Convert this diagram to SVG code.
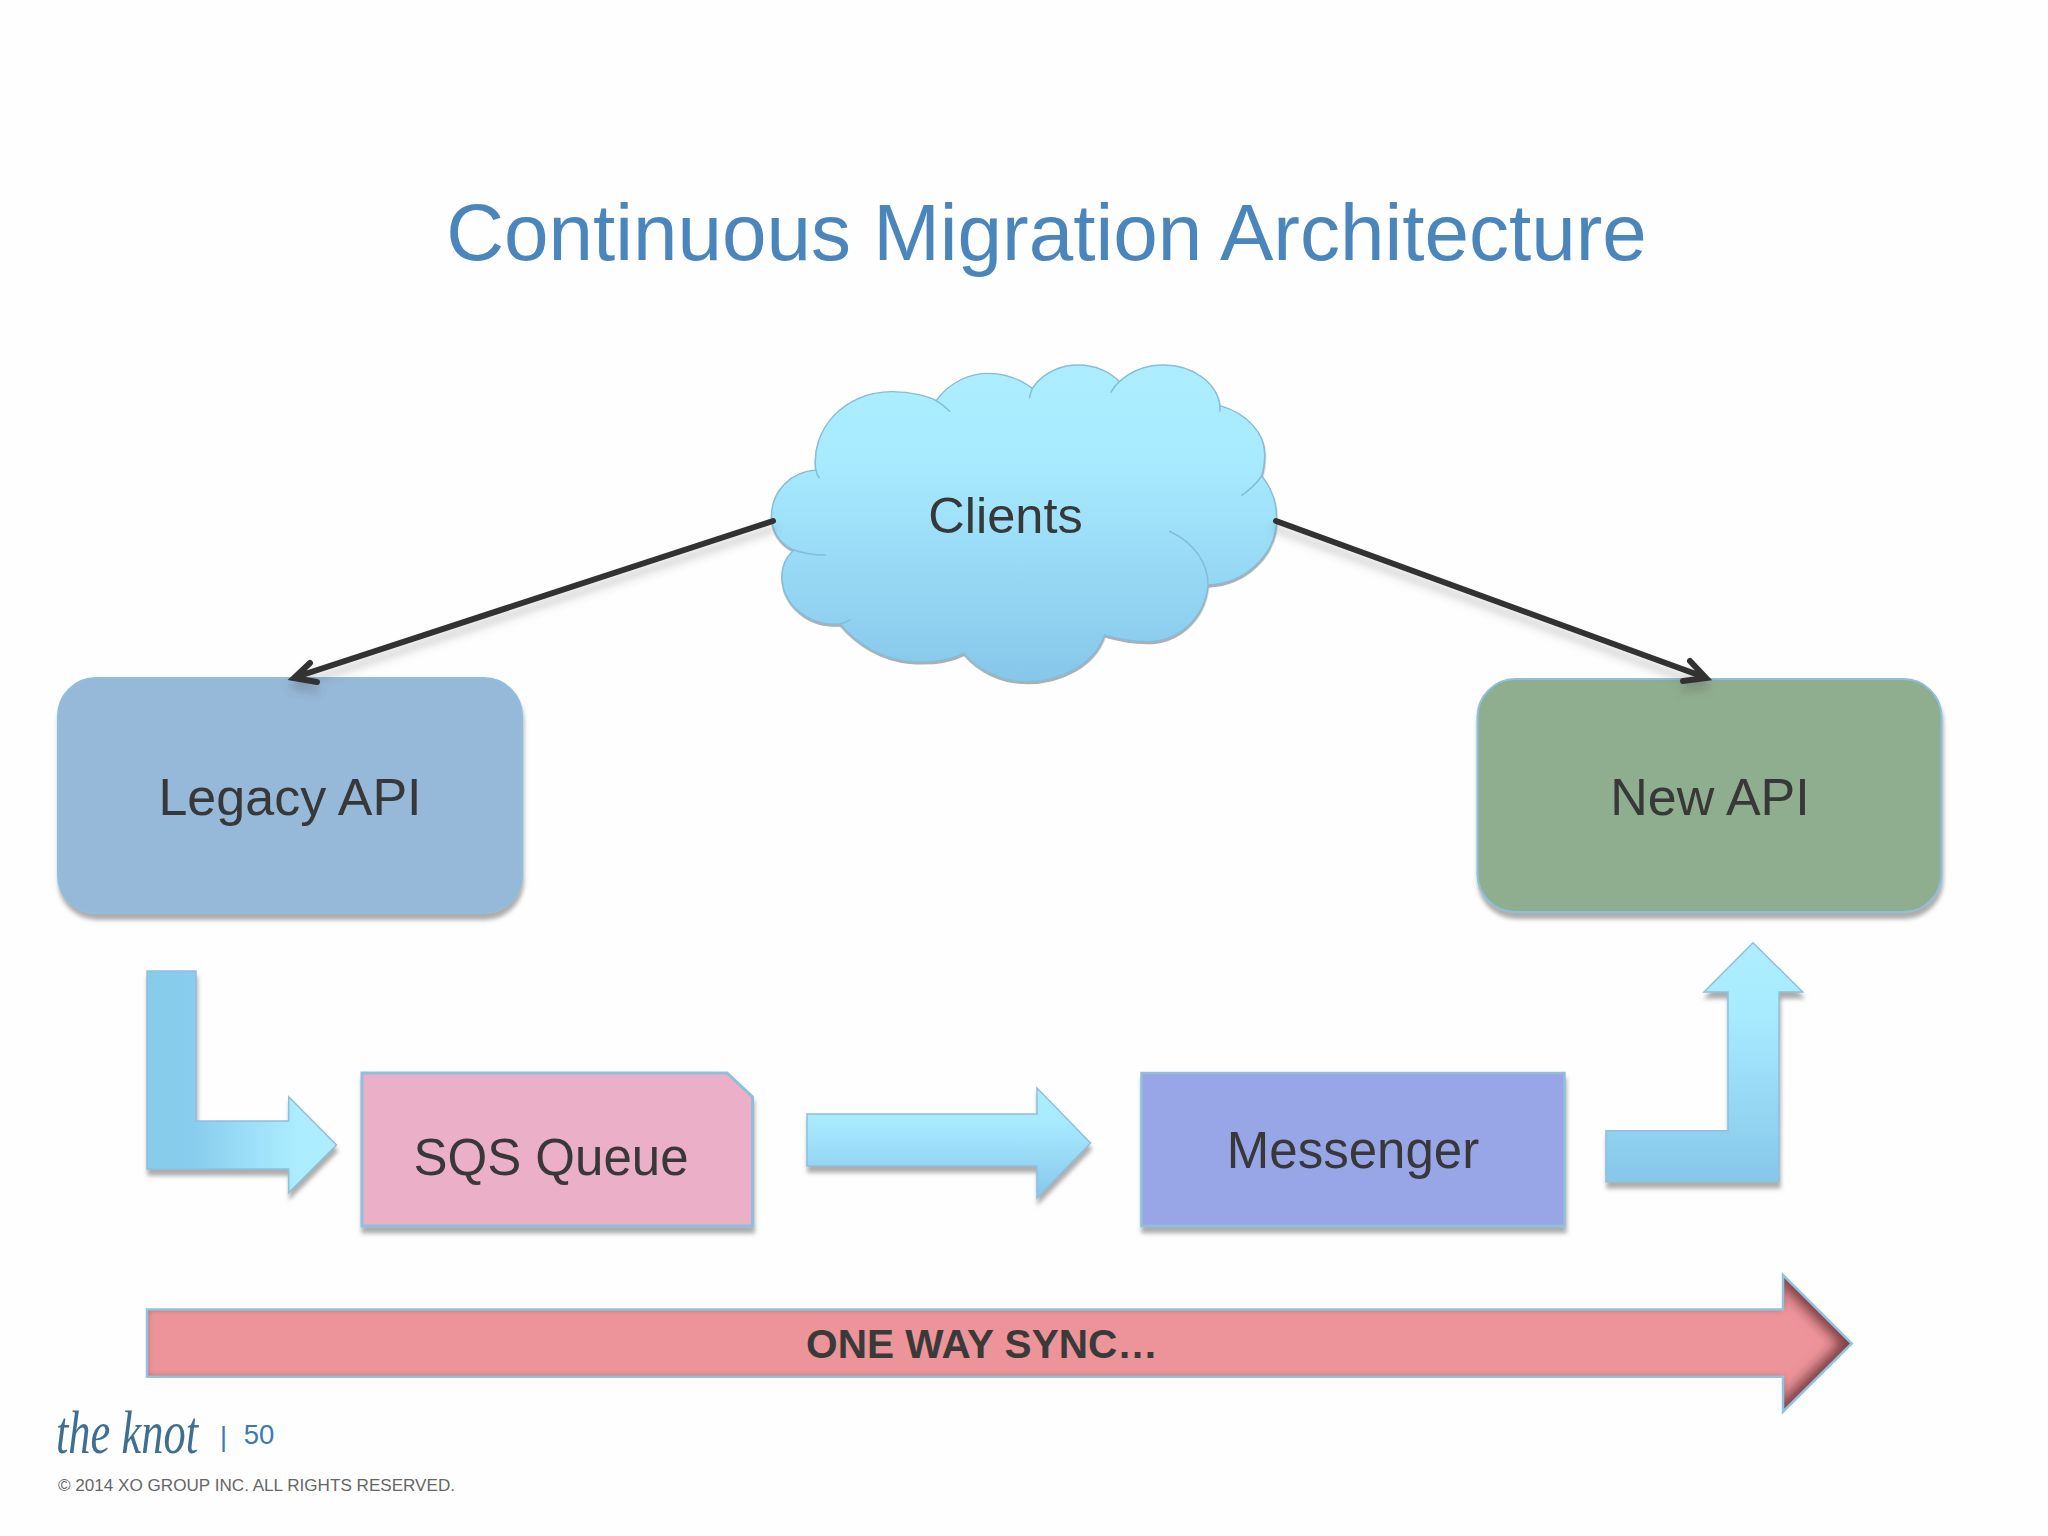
<svg xmlns="http://www.w3.org/2000/svg" width="2048" height="1536" viewBox="0 0 2048 1536">
<style>
text{font-family:"Liberation Sans",Arial,sans-serif;fill:#383838;text-anchor:middle}
.lbl{font-size:51px}
.st{stroke:#8fbfdc;stroke-width:2;filter:url(#sh)}
.in{fill:none;stroke:#86bcd8;stroke-width:1.5}
.cn{fill:none;stroke:#333;stroke-width:6;stroke-linecap:round;stroke-linejoin:miter}
</style>
<defs>
<linearGradient id="v" x1="0" y1="0" x2="0" y2="1"><stop offset="0" stop-color="#aceeff"/><stop offset=".3" stop-color="#a8ebff"/><stop offset="1" stop-color="#86c7ea"/></linearGradient>
<linearGradient id="h" x1="0" y1="0" x2="1" y2="0"><stop offset="0" stop-color="#87cbeb"/><stop offset=".25" stop-color="#89cdee"/><stop offset=".8" stop-color="#aceeff"/><stop offset="1" stop-color="#aceeff"/></linearGradient>
<filter id="sh" x="-10%" y="-10%" width="120%" height="125%"><feDropShadow dx="1" dy="6" stdDeviation="2" flood-color="#777" flood-opacity=".6"/></filter>
<filter id="lsh" x="-10%" y="-10%" width="120%" height="130%"><feDropShadow dx="0" dy="8" stdDeviation="4" flood-color="#555" flood-opacity=".3"/></filter>
<filter id="inner" x="-5%" y="-20%" width="110%" height="140%"><feGaussianBlur in="SourceAlpha" stdDeviation="3" result="b"/><feComposite in="SourceAlpha" in2="b" operator="out" result="e"/><feFlood flood-color="#5a2a30" flood-opacity=".7"/><feComposite in2="e" operator="in" result="s"/><feMerge><feMergeNode in="SourceGraphic"/><feMergeNode in="s"/></feMerge></filter>
<filter id="soft" x="-30%" y="-10%" width="160%" height="120%"><feGaussianBlur stdDeviation="6"/></filter>
<clipPath id="redclip"><path d="M147,1309.500H1783V1275L1851.700,1343.500L1783,1411.700V1376.700H147Z"/></clipPath>
</defs>
<rect width="2048" height="1536" fill="#fefefe"/>
<text id="title" x="1046.500" y="260" font-size="80" style="fill:#4a86bb">Continuous Migration Architecture</text>
<g id="clients">
<g transform="translate(740 340) scale(.37 .3333)">
<path d="M85,530C85,450 140,395 205,390C190,270 280,155 410,155C465,155 510,170 530,182C570,120 630,100 670,100C720,100 760,120 790,145C820,95 870,75 915,75C960,75 1000,95 1025,125C1060,90 1100,75 1145,75C1225,75 1290,130 1297,197C1370,220 1420,280 1418,345C1418,370 1415,390 1410,408C1440,450 1452,490 1450,550C1445,640 1370,730 1265,735C1255,840 1180,905 1100,905C1055,905 1015,895 985,885C960,970 870,1025 775,1025C700,1025 640,985 605,940C560,965 510,968 465,965C380,960 310,905 270,852C180,860 115,790 113,710C113,680 125,650 145,630C105,610 85,570 85,530Z" fill="url(#v)" stroke="#86bcd8" stroke-width="4" filter="url(#sh)"/>
<path class="in" vector-effect="non-scaling-stroke" d="M205,390Q207,405 215,415M530,182Q550,195 568,215M790,145Q785,160 782,175M1025,125Q1010,140 1002,158M1297,197V215M1410,408Q1390,440 1355,467M1160,573C1230,610 1265,670 1265,735M145,630C170,640 200,645 232,645M270,852Q285,848 300,838"/>
</g>
<text class="lbl" x="1005.500" y="533" style="font-size:50.500px">Clients</text>
</g>
<g id="legacy-api">
<rect class="st" x="58" y="678" width="464" height="235" rx="38" fill="#96b8d9"/>
<text class="lbl" x="290" y="815" style="font-size:52px">Legacy API</text>
</g>
<g id="new-api">
<rect class="st" x="1477.500" y="679" width="464" height="233" rx="38" fill="#8fae8f"/>
<text class="lbl" x="1710" y="815" style="font-size:52px">New API</text>
</g>
<g id="sqs-queue">
<path class="st" d="M362,1073H727L752.500,1097V1226H362Z" fill="#ecafc8" style="stroke-width:3"/>
<text class="lbl" x="551" y="1175">SQS Queue</text>
</g>
<g id="messenger">
<rect class="st" x="1141.500" y="1073" width="423" height="153" fill="#98a6e8" style="stroke-width:2.500"/>
<text class="lbl" x="1353" y="1168">Messenger</text>
</g>
<g id="arrows">
<path id="arrow-left" class="st" style="stroke-width:1.500" d="M147,971H196V1121H288.700V1096.700L336.500,1145L288.700,1192.700V1169H147Z" fill="url(#h)"/>
<path id="arrow-mid" class="st" style="stroke-width:1.500" d="M807,1114H1037V1088L1090.500,1143L1037,1198V1166H807Z" fill="url(#v)"/>
<path id="arrow-right" class="st" style="stroke-width:1.500" d="M1606,1130.700H1728V992H1704L1753,942.700L1802.700,992H1779V1181.700H1606Z" fill="url(#v)"/>
</g>
<g id="connectors" filter="url(#lsh)">
<path class="cn" d="M773,521 296,677M310,663 294,678 317,682"/>
<path class="cn" d="M1276,521 1704,677M1690,661 1706,678 1683,681"/>
</g>
<g id="one-way-sync">
<path d="M147,1309.500H1783V1275L1851.700,1343.500L1783,1411.700V1376.700H147Z" fill="#ec9499" filter="url(#inner)"/>
<g clip-path="url(#redclip)"><path d="M1783,1275L1851.700,1343.500L1783,1411.700" fill="none" stroke="#5a2228" stroke-width="18" stroke-opacity=".7" filter="url(#soft)"/></g>
<path d="M147,1309.500H1783V1275L1851.700,1343.500L1783,1411.700V1376.700H147Z" fill="none" stroke="#8fc3de" stroke-width="2.500"/>
<text x="982" y="1358" font-size="40.600" font-weight="bold" style="fill:#3a3a3a">ONE WAY SYNC…</text>
</g>
<g id="footer">
<text x="127" y="1453" font-size="62" textLength="142" lengthAdjust="spacingAndGlyphs" style="font-family:'Liberation Serif',serif;font-style:italic;fill:#3f6f90">the knot</text>
<text x="223.500" y="1446" font-size="27" style="fill:#3b7ab5">|</text>
<text x="259" y="1444" font-size="27.500" style="fill:#3b7ab5">50</text>
<text x="58" y="1491" font-size="17.100" style="fill:#666;text-anchor:start">© 2014 XO GROUP INC. ALL RIGHTS RESERVED.</text>
</g>
</svg>
